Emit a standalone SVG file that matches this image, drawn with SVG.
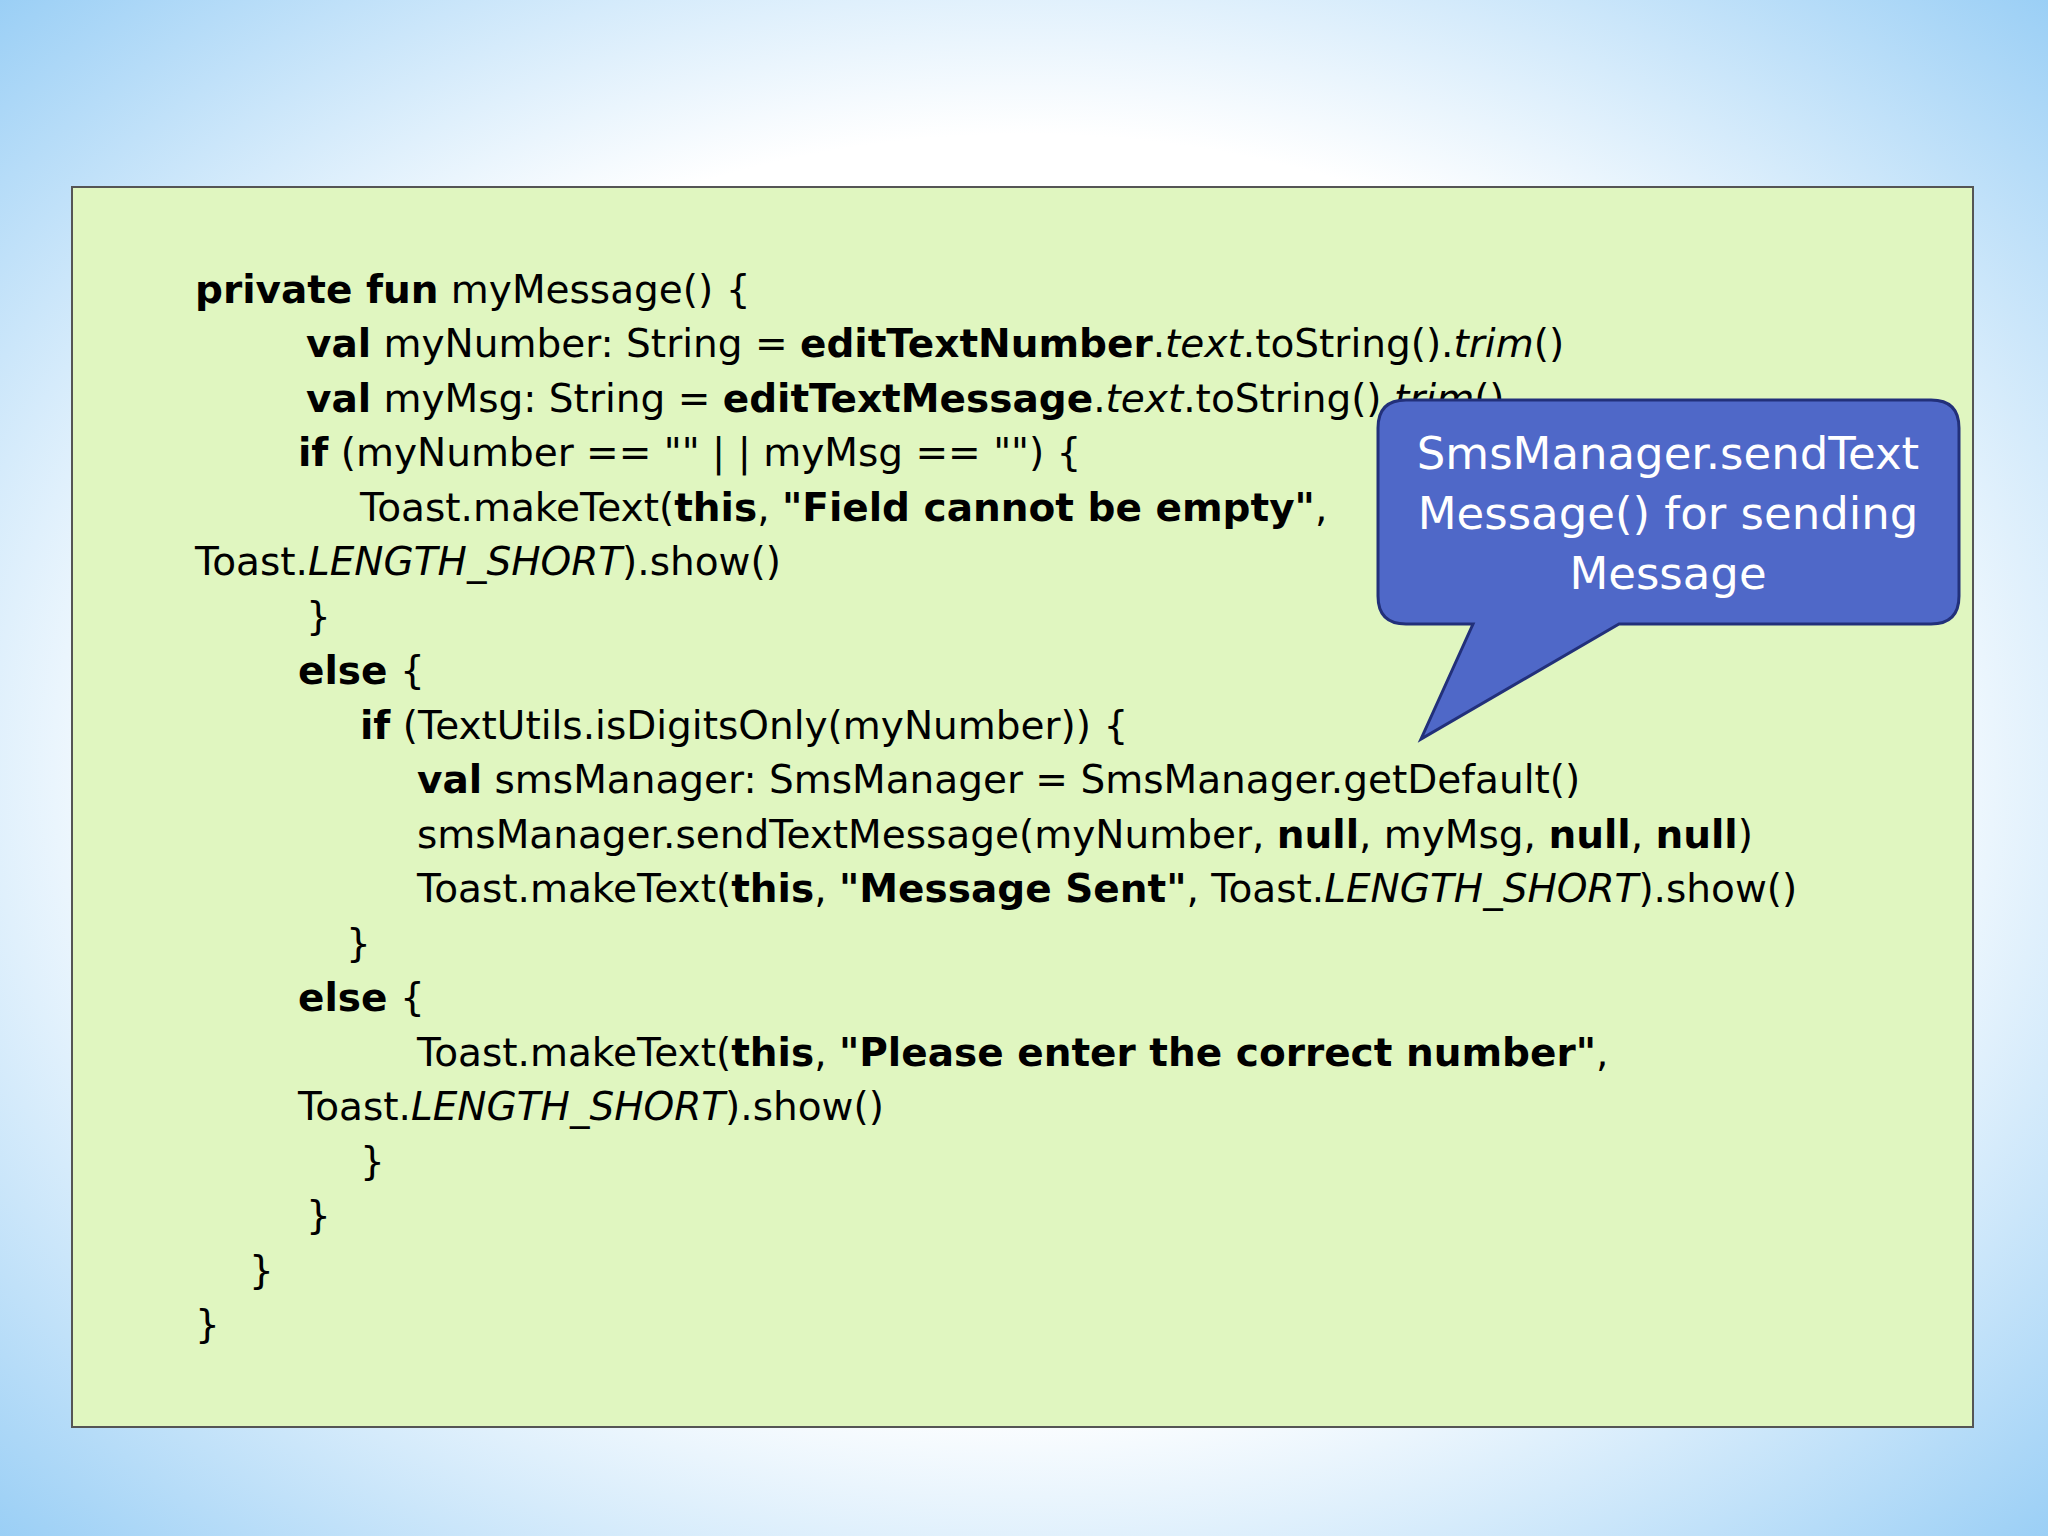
<svg xmlns="http://www.w3.org/2000/svg" width="2048" height="1536" viewBox="0 0 2048 1536">
<defs>
<radialGradient id="bg" cx="50%" cy="50%" r="75%">
<stop offset="0.55" stop-color="#ffffff"/>
<stop offset="1" stop-color="#8cc8f4"/>
</radialGradient>
<style>
.c{font-family:"DejaVu Sans",sans-serif;font-size:39px;fill:#000}
.b{font-weight:bold}
.i{font-style:italic}
.t{font-family:"DejaVu Sans",sans-serif;font-size:45px;fill:#fff;text-anchor:middle}
</style>
</defs>
<rect width="2048" height="1536" fill="url(#bg)"/>
<g id="codebox">
<rect x="72" y="187" width="1901" height="1240" fill="#e0f6c0" stroke="#555" stroke-width="2"/>
<text class="c" x="195" y="303"><tspan class="b">private fun</tspan> myMessage() {</text>
<text class="c" x="306" y="357"><tspan class="b">val</tspan> myNumber: String = <tspan class="b">editTextNumber</tspan>.<tspan class="i">text</tspan>.toString().<tspan class="i">trim</tspan>()</text>
<text class="c" x="306" y="412"><tspan class="b">val</tspan> myMsg: String = <tspan class="b">editTextMessage</tspan>.<tspan class="i">text</tspan>.toString().<tspan class="i">trim</tspan>()</text>
<text class="c" x="298" y="466"><tspan class="b">if</tspan> (myNumber == "" | | myMsg == "") {</text>
<text class="c" x="360" y="521">Toast.makeText(<tspan class="b">this</tspan>, <tspan class="b">"Field cannot be empty"</tspan>,</text>
<text class="c" x="195" y="575">Toast.<tspan class="i">LENGTH_SHORT</tspan>).show()</text>
<text class="c" x="306" y="630">}</text>
<text class="c" x="298" y="684"><tspan class="b">else</tspan> {</text>
<text class="c" x="360" y="739"><tspan class="b">if</tspan> (TextUtils.isDigitsOnly(myNumber)) {</text>
<text class="c" x="417" y="793"><tspan class="b">val</tspan> smsManager: SmsManager = SmsManager.getDefault()</text>
<text class="c" x="417" y="848">smsManager.sendTextMessage(myNumber, <tspan class="b">null</tspan>, myMsg, <tspan class="b">null</tspan>, <tspan class="b">null</tspan>)</text>
<text class="c" x="417" y="902">Toast.makeText(<tspan class="b">this</tspan>, <tspan class="b">"Message Sent"</tspan>, Toast.<tspan class="i">LENGTH_SHORT</tspan>).show()</text>
<text class="c" x="346" y="957">}</text>
<text class="c" x="298" y="1011"><tspan class="b">else</tspan> {</text>
<text class="c" x="417" y="1066">Toast.makeText(<tspan class="b">this</tspan>, <tspan class="b">"Please enter the correct number"</tspan>,</text>
<text class="c" x="298" y="1120">Toast.<tspan class="i">LENGTH_SHORT</tspan>).show()</text>
<text class="c" x="360" y="1175">}</text>
<text class="c" x="306" y="1229">}</text>
<text class="c" x="249" y="1284">}</text>
<text class="c" x="195" y="1338">}</text>
</g>
<g id="callout">
<path d="M1406,400 H1931 Q1959,400 1959,428 V596 Q1959,624 1931,624 H1619 L1421,739 L1473,624 H1406 Q1378,624 1378,596 V428 Q1378,400 1406,400 Z" fill="#4f68c8" stroke="#22307a" stroke-width="3"/>
<text class="t" x="1668" y="469">SmsManager.sendText</text>
<text class="t" x="1668" y="529">Message() for sending</text>
<text class="t" x="1668" y="589">Message</text>
</g>
</svg>
